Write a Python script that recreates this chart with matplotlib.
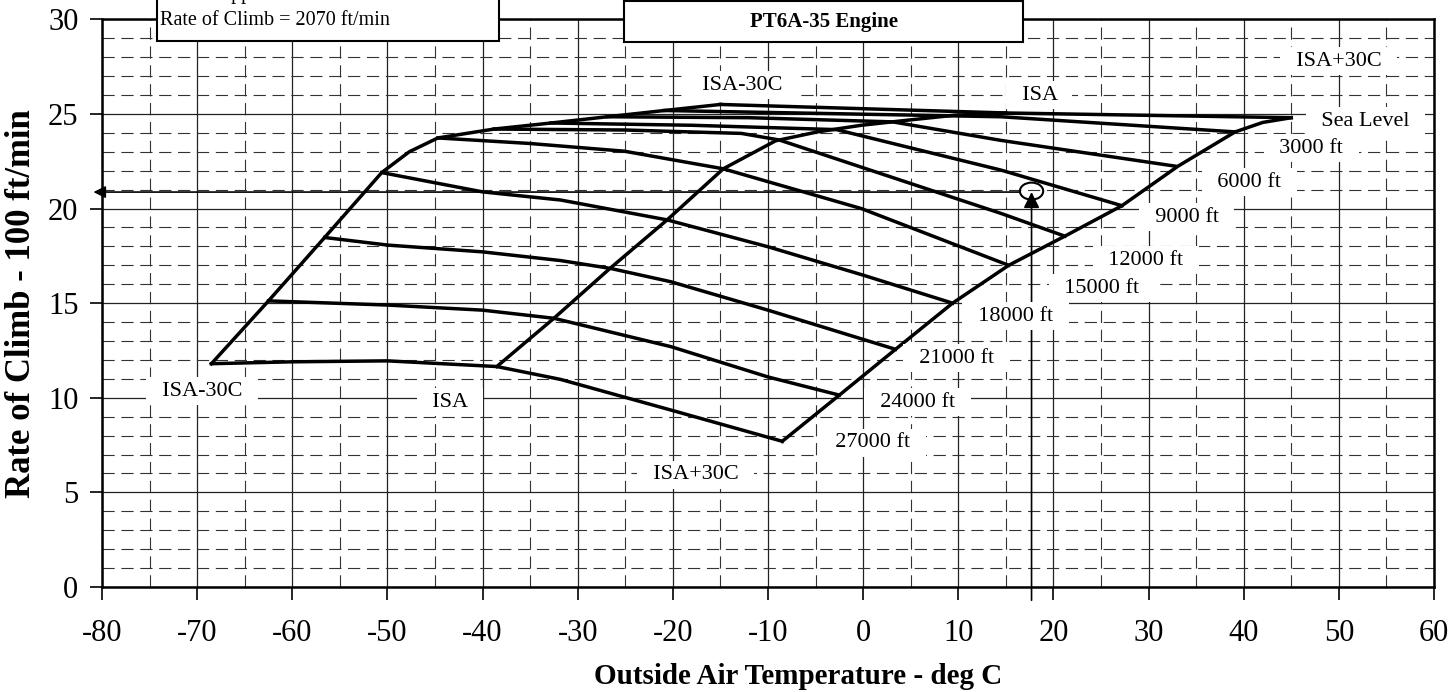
import matplotlib.pyplot as plt
from matplotlib.patches import Ellipse, Rectangle
from matplotlib.ticker import MultipleLocator

plt.rcParams['font.family'] = ['Liberation Serif', 'DejaVu Serif']
plt.rcParams['axes.unicode_minus'] = False

# Linien konstanter Druckhoehe: OAT [deg C] / Steigrate [100 ft/min]
sl_t = [-15.0, 15.0, 45.0]
sl_r = [25.5, 25.05, 24.8]
a3_t = [-20.9, 9.1, 14.5, 39.1]
a3_r = [25.18, 24.9, 24.85, 24.05]
a6_t = [-26.9, -12.0, 3.1, 14.5, 32.8]
a6_r = [24.85, 24.8, 24.58, 23.6, 22.24]
a9_t = [-32.8, -18.0, -2.8, 14.5, 27.2]
a9_r = [24.52, 24.4, 24.17, 22.03, 20.15]
a12_t = [-38.8, -25.0, -12.8, -8.8, 14.5, 21.2]
a12_r = [24.2, 24.15, 23.97, 23.62, 19.74, 18.54]
a15_t = [-44.7, -35.1, -25.1, -14.7, -0.2, 15.3]
a15_r = [23.73, 23.44, 23.03, 22.1, 20.0, 17.0]
a18_t = [-50.6, -40.0, -31.8, -20.6, -10.0, 0.0, 9.4]
a18_r = [21.9, 20.88, 20.45, 19.4, 17.98, 16.48, 15.0]
a21_t = [-56.6, -50.0, -40.0, -31.8, -26.6, -20.2, -10.0, 3.4]
a21_r = [18.47, 18.07, 17.71, 17.25, 16.84, 16.13, 14.63, 12.56]
a24_t = [-62.5, -50.0, -40.0, -32.5, -20.2, -10.0, -2.5]
a24_r = [15.12, 14.9, 14.63, 14.2, 12.7, 11.1, 10.14]
a27_t = [-68.5, -60.0, -50.0, -38.5, -31.8, -20.2, -8.5]
a27_r = [11.8, 11.9, 11.95, 11.65, 10.97, 9.35, 7.7]

# Temperaturgrenzen
cold_t = [-68.5, -62.5, -56.6, -50.6, -47.7, -44.7, -38.8, -32.8, -26.9, -20.9, -15.0]
cold_r = [11.8, 15.12, 18.47, 21.9, 23.0, 23.73, 24.2, 24.52, 24.85, 25.18, 25.5]
isa_t = [-38.5, -32.5, -26.6, -20.6, -14.7, -9.2, -4.8, -0.2, 4.7, 9.6, 15.0]
isa_r = [11.65, 14.2, 16.84, 19.4, 22.1, 23.58, 24.05, 24.4, 24.67, 24.93, 25.05]
hot_t = [-8.5, -2.5, 3.4, 9.4, 15.3, 21.2, 27.2, 33.1, 39.1, 42.0, 45.0]
hot_r = [7.7, 10.14, 12.56, 15.0, 17.0, 18.54, 20.15, 22.24, 24.05, 24.55, 24.8]

# Beschriftungen
label_text = ["ISA-30C", "ISA", "ISA+30C", "Sea Level", "3000 ft", "6000 ft", "9000 ft",
              "12000 ft", "15000 ft", "18000 ft", "21000 ft", "24000 ft", "27000 ft",
              "ISA+30C", "ISA", "ISA-30C"]
label_t = [-12.7, 18.5, 50.0, 52.8, 47.1, 40.6, 34.0, 29.7, 25.1, 16.0, 9.8, 5.7, 1.0,
           -17.6, -43.45, -69.5]
label_r = [26.52, 25.99, 27.79, 24.62, 23.19, 21.39, 19.55, 17.27, 15.79, 14.32, 12.1,
           9.77, 7.61, 5.92, 9.77, 10.35]

# Beispiel
bsp_t = 17.7
bsp_r = 20.87

fig = plt.figure(figsize=(14.54, 6.92), dpi=100)
ax = fig.add_axes([102 / 1454, 1 - 587 / 692, (1434 - 102) / 1454, (587 - 19.3) / 692])

for t, r in [(sl_t, sl_r), (a3_t, a3_r), (a6_t, a6_r), (a9_t, a9_r), (a12_t, a12_r),
             (a15_t, a15_r), (a18_t, a18_r), (a21_t, a21_r), (a24_t, a24_r),
             (a27_t, a27_r), (cold_t, cold_r), (isa_t, isa_r), (hot_t, hot_r)]:
    ax.plot(t, r, color="black", lw=2.5, solid_joinstyle="round", zorder=4)

ax.set_xlim(-80, 60)
ax.set_ylim(0, 30)
ax.xaxis.set_major_locator(MultipleLocator(10))
ax.xaxis.set_minor_locator(MultipleLocator(5))
ax.yaxis.set_major_locator(MultipleLocator(5))
ax.yaxis.set_minor_locator(MultipleLocator(1))
ax.grid(which="major", color="#222222", lw=0.9, ls="-")
ax.grid(which="minor", color="#333333", lw=0.8, ls=(0, (11, 6)))
ax.set_axisbelow(True)
ax.tick_params(which="major", direction="out", length=9, width=1.2, labelsize=22)
ax.tick_params(axis="x", pad=14)
ax.tick_params(axis="y", pad=8)
ax.tick_params(which="minor", length=0)
for s in ax.spines.values():
    s.set_linewidth(1.8)

ax.set_xlabel("Outside Air Temperature - deg C", fontsize=21, fontweight="bold", va="center")
ax.xaxis.set_label_coords((798 - 102) / 1332, (587 - 677) / 567.7)
ax.set_ylabel("Rate of Climb - 100 ft/min", fontsize=25, fontweight="bold", va="center")
ax.yaxis.set_label_coords((22 - 102) / 1332, (587 - 304) / 567.7)

for s, t, r in zip(label_text, label_t, label_r):
    ax.text(t, r, "  " + s + "  ", fontsize=16, ha="center", va="center", zorder=6,
            clip_on=False, bbox=dict(boxstyle="square,pad=0.2", fc="white", ec="none"))

# Ablesepfeile
ax.annotate("", xy=(-80.9, bsp_r), xytext=(bsp_t - 1.25, bsp_r), annotation_clip=False,
            arrowprops=dict(arrowstyle="-|>", color="black", lw=1.2, mutation_scale=18,
                            shrinkA=0, shrinkB=0), zorder=5)
ax.annotate("", xy=(bsp_t, bsp_r), xytext=(bsp_t, -0.7), annotation_clip=False,
            arrowprops=dict(arrowstyle="-|>", color="black", lw=1.2, mutation_scale=24,
                            shrinkA=0, shrinkB=0), zorder=5)
ax.add_patch(Ellipse((bsp_t, 20.92), 2.45, 0.9, fill=False, ec="black", lw=1.5, zorder=5))

# Kaesten oben
fig.patches.append(Rectangle((157 / 1454, 1 - 40.7 / 692), 342 / 1454, 0.1,
                             transform=fig.transFigure, fc="white", ec="black", lw=1.5,
                             zorder=10))
fig.text(160 / 1454, 1 + 1 / 692, "Result: approx.", fontsize=14.5, va="baseline",
         zorder=11)
fig.text(160 / 1454, 1 - 20.7 / 692, "Rate of Climb = 2070 ft/min", fontsize=14.5,
         va="center", zorder=11)
fig.patches.append(Rectangle((624 / 1454, 1 - 42 / 692), 399 / 1454, 41 / 692,
                             transform=fig.transFigure, fc="white", ec="black", lw=1.5,
                             zorder=10))
fig.text(823.5 / 1454, 1 - 22 / 692, "PT6A-35 Engine", fontsize=15, fontweight="bold",
         ha="center", va="center", zorder=11)

fig.savefig("out.png", dpi=100)
